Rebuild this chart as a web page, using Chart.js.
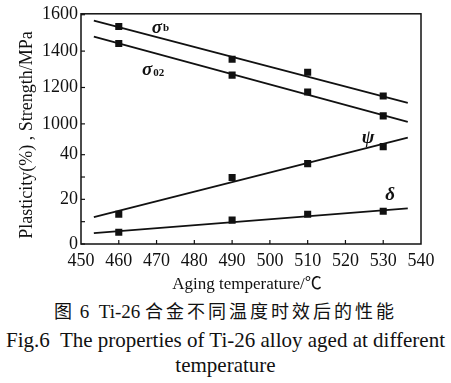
<!DOCTYPE html>
<html><head><meta charset="utf-8">
<script src="https://cdn.jsdelivr.net/npm/chart.js@4"></script>
<style>
html,body{margin:0;padding:0;background:#fff;}
body{width:451px;height:383px;overflow:hidden;position:relative;font-family:"Liberation Serif","Noto Sans CJK SC",serif;color:#111;}
#wrap{position:absolute;left:0;top:0;width:451px;height:296px;}
.cap{position:absolute;left:0;width:451px;text-align:center;white-space:nowrap;}
.cjk{font-family:"Noto Sans CJK SC",sans-serif;letter-spacing:3px;}
</style></head><body>
<div id="wrap"><canvas id="c" width="451" height="296"></canvas></div>
<div class="cap" style="top:299px;font-size:19px;line-height:22px;"><span class="cjk" style="font-size:18px;">图</span> 6&nbsp; Ti-26 <span class="cjk" style="font-size:18px;">合金不同温度时效后的性能</span></div>
<div class="cap" style="top:328px;font-size:21px;line-height:24px;">Fig.6&nbsp; The properties of Ti-26 alloy aged at different</div>
<div class="cap" style="top:353px;font-size:21px;line-height:24px;">temperature</div>
<script>
// ---- data ----
const temps = [460, 490, 510, 530];
const sigmaB = [1535, 1355, 1284, 1153];
const sigma02 = [1442, 1268, 1175, 1044];
const psi = [13.3, 29.8, 36.0, 43.6];
const delta = [5.3, 10.7, 13.3, 14.7];
const fitTemps = [453.4, 536.5];
const sigmaBFit = [1567, 1115];
const sigma02Fit = [1480, 1011];
const psiFit = [12.0, 47.6];
const deltaFit = [4.9, 16.0];
const xTickValues = [450, 460, 470, 480, 490, 500, 510, 520, 530, 540];
const plasticityTicks = [0, 10, 20, 30, 40];
const plasticityLabels = ['0', '', '20', '', '40'];
const strengthTicks = [1000, 1200, 1400, 1600];

// strength values share the axis above the plasticity range (broken axis)
const S0 = 1000, U0 = 53.8, K = 0.08148;
const toU = s => U0 + (s - S0) * K;

const pts = (xs, ys, f) => xs.map((x, i) => ({x: x, y: f ? f(ys[i]) : ys[i]}));

const seriesLabels = [
  {t: 'σ', sub: 'b', x: 470.1, y: toU(1524)},
  {t: 'σ', sub: '02', x: 467.5, y: toU(1294)},
  {t: 'ψ', sub: '', x: 526.0, y: 47.6},
  {t: 'δ', sub: '', x: 531.8, y: 21.8}
];

const yTickVals = plasticityTicks.concat(strengthTicks.map(toU));
const yTickLabels = plasticityLabels.concat(strengthTicks.map(String));

const lineDs = (data) => ({data: data, showLine: true, borderColor: '#111', borderWidth: 1.8, pointRadius: 0, fill: false});
const markDs = (data) => ({data: data, showLine: false, pointStyle: 'rect', pointRadius: 5, backgroundColor: '#111', borderColor: '#111', borderWidth: 0});

const decor = {
  id: 'decor',
  afterDraw(chart) {
    const ctx = chart.ctx, a = chart.chartArea;
    const xs = chart.scales.x, ys = chart.scales.y;
    ctx.save();
    ctx.strokeStyle = '#111';
    ctx.lineWidth = 1.5;
    ctx.strokeRect(a.left, a.top, a.right - a.left, a.bottom - a.top);
    ctx.lineWidth = 1.2;
    xTickValues.slice(1, -1).forEach(v => {
      const px = xs.getPixelForValue(v);
      ctx.beginPath(); ctx.moveTo(px, a.bottom); ctx.lineTo(px, a.bottom - 4); ctx.stroke();
    });
    yTickVals.forEach(v => {
      const py = ys.getPixelForValue(v);
      ctx.beginPath(); ctx.moveTo(a.left, py); ctx.lineTo(a.left + 4, py); ctx.stroke();
    });
    // series labels
    ctx.fillStyle = '#111';
    ctx.textBaseline = 'middle';
    seriesLabels.forEach(l => {
      const px = xs.getPixelForValue(l.x), py = ys.getPixelForValue(l.y);
      ctx.font = 'italic bold 19px "Liberation Serif", "DejaVu Serif", serif';
      ctx.textAlign = 'center';
      ctx.fillText(l.t, px, py);
      if (l.sub) {
        const w = ctx.measureText(l.t).width;
        ctx.font = 'bold 11px "Liberation Serif", serif';
        ctx.textAlign = 'left';
        ctx.fillText(l.sub, px + w / 2 + 1, py + (l.sub === 'b' ? 0 : 3));
      }
    });
    // axis titles
    ctx.font = '17px "Liberation Serif", "Noto Sans CJK SC", serif';
    ctx.textAlign = 'center';
    ctx.fillText('Aging temperature/℃', 247, 285);
    ctx.font = '18px "Liberation Serif", serif';
    ctx.translate(27, 135);
    ctx.rotate(-Math.PI / 2);
    ctx.fillText('Plasticity(%) , Strength/MPa', 0, 0);
    ctx.restore();
  }
};

new Chart(document.getElementById('c'), {
  type: 'scatter',
  data: {
    datasets: [
      lineDs(pts(fitTemps, sigmaBFit, toU)),
      lineDs(pts(fitTemps, sigma02Fit, toU)),
      lineDs(pts(fitTemps, psiFit)),
      lineDs(pts(fitTemps, deltaFit)),
      markDs(pts(temps, sigmaB, toU)),
      markDs(pts(temps, sigma02, toU)),
      markDs(pts(temps, psi)),
      markDs(pts(temps, delta))
    ]
  },
  options: {
    responsive: false,
    animation: false,
    devicePixelRatio: 1,
    layout: {padding: {top: 12, right: 30, left: 0, bottom: 0}},
    plugins: {legend: {display: false}, tooltip: {enabled: false}},
    scales: {
      x: {
        type: 'linear', min: 450, max: 540,
        afterBuildTicks: s => { s.ticks = xTickValues.map(v => ({value: v})); },
        afterFit: s => { s.height = 52; },
        grid: {display: false, drawTicks: false},
        border: {display: false},
        ticks: {color: '#111', padding: 6, maxRotation: 0, autoSkip: false,
                font: {family: '"Liberation Serif", serif', size: 18}}
      },
      y: {
        type: 'linear', min: 0, max: 103.1,
        afterBuildTicks: s => { s.ticks = yTickVals.map(v => ({value: v})); },
        afterFit: s => { s.width = 81; },
        grid: {display: false, drawTicks: false},
        border: {display: false},
        ticks: {color: '#111', padding: 3, autoSkip: false,
                callback: (v, i) => yTickLabels[i],
                font: {family: '"Liberation Serif", serif', size: 18}}
      }
    }
  },
  plugins: [decor]
});
</script>
</body></html>
